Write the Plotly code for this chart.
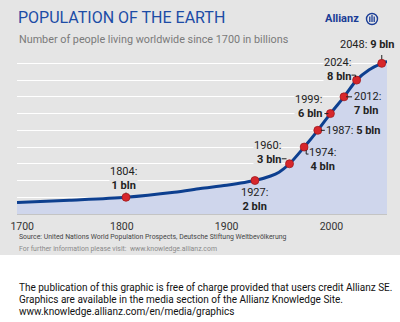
import plotly.graph_objects as go

# World population curve (billions)
years = [1700, 1750, 1804, 1850, 1875, 1900, 1927, 1942, 1950, 1960,
         1974, 1987, 1999, 2012, 2024, 2036, 2048, 2053]
population = [0.68, 0.82, 1.0, 1.3, 1.52, 1.72, 2.0, 2.27, 2.5, 3.0,
              4.0, 5.0, 6.0, 7.0, 8.0, 8.62, 9.0, 9.12]

# Milestones: year at which each billion was reached
milestone_years = [1804, 1927, 1960, 1974, 1987, 1999, 2012, 2024, 2048]
milestone_pop = [1, 2, 3, 4, 5, 6, 7, 8, 9]

tick_years = [1700, 1800, 1900, 2000]
tick_labels = ["\u00a0\u00a0\u00a0\u00a01700", "1800", "1900", "2000"]

BLUE = "#0d3f8f"
RED = "#d7262b"
GREY_BG = "#e5e5e5"
FILL = "#cfd6ec"
TXT = "#333333"
FONT = "Roboto, Liberation Sans, sans-serif"

# page geometry (pixels) -> paper coordinates
L, R, T, B = 17, 13, 55, 108
W, H = 400, 322
PW, PH = W - L - R, H - T - B


def px(x):
    return (x - L) / PW


def py(y):
    return (H - B - y) / PH


fig = go.Figure()

fig.add_trace(go.Scatter(
    x=years, y=population, mode="lines",
    line=dict(color=BLUE, width=3, shape="spline", smoothing=0.8),
    fill="tozeroy", fillcolor=FILL, hoverinfo="skip",
))

fig.add_trace(go.Scatter(
    x=milestone_years, y=milestone_pop, mode="markers",
    marker=dict(color=RED, size=8, line=dict(color="#a01a1e", width=0.8)),
    hoverinfo="skip",
))

# label placement per milestone: (xshift, yshift, xanchor, align, two_lines, on_fill)
placement = {
    1804: (-3, 19, "center", "center", True, False),
    1927: (0, -19, "center", "center", True, True),
    1960: (-22, 11, "center", "right", True, False),
    1974: (18, -12, "center", "center", True, True),
    1987: (7, 0, "left", "left", False, True),
    1999: (-7, 7, "right", "right", True, False),
    2012: (9, -7, "left", "left", True, True),
    2024: (-5, 11, "right", "right", True, False),
    2048: (-15, 19, "center", "center", False, False),
}

# small leader strokes, pixel offsets from each milestone point
leaders = {
    1804: [(0, 4, 0, 8)],
    1960: [(-8, 5, -3, 5)],
    1974: [(2, -3, 2, -7), (2, -7, 5, -7)],
    1987: [(3, 0, 7, 0)],
    1999: [(-6, 0, -2, 0)],
    2012: [(2, 0, 8, 0)],
    2024: [(-6, 5, -1, 5), (-1, 5, -1, 3)],
    2048: [(0, 4, 0, 11)],
}

for yr, pop in zip(milestone_years, milestone_pop):
    xs, ys, xa, al, two, on_fill = placement[yr]
    sep = "<br>" if two else " "
    fig.add_annotation(
        x=yr, y=pop, xref="x", yref="y",
        text=f"{yr}:{sep}<b>{pop} bln</b>",
        showarrow=False, xshift=xs, yshift=ys,
        xanchor=xa, yanchor="middle", align=al,
        font=dict(family=FONT, size=11, color="#222222"),
        bgcolor=FILL if on_fill else GREY_BG, borderpad=0,
    )
    for (x0, y0, x1, y1) in leaders.get(yr, []):
        fig.add_shape(
            type="line", xref="x", yref="y",
            xsizemode="pixel", ysizemode="pixel",
            xanchor=yr, yanchor=pop,
            x0=x0, x1=x1, y0=y0, y1=y1,
            line=dict(color="#222222", width=1),
        )

# grey header panel behind the chart
fig.add_shape(type="rect", xref="paper", yref="paper", layer="below",
              x0=px(0), x1=px(W), y0=py(255), y1=py(0),
              fillcolor=GREY_BG, line=dict(width=0))

# Allianz logo mark
cx, cy, r = 372, 19, 5.5
fig.add_shape(type="circle", xref="paper", yref="paper",
              x0=px(cx - r), x1=px(cx + r), y0=py(cy + r), y1=py(cy - r),
              line=dict(color="#1a3d96", width=1.4))
for dx, top, bot in [(-2.2, 16.5, 22), (0, 15, 22), (2.2, 16.5, 22)]:
    fig.add_shape(type="line", xref="paper", yref="paper",
                  x0=px(cx + dx), x1=px(cx + dx), y0=py(bot), y1=py(top),
                  line=dict(color="#1a3d96", width=1.3))

texts = [
    dict(x=16, y=17, text="POPULATION OF THE EARTH",
         font=dict(family=FONT, size=16, color="#1c4ca6")),
    dict(x=17, y=39, text="Number of people living worldwide since 1700 in billions",
         font=dict(family=FONT, size=10.8, color="#7a7a7a")),
    dict(x=323, y=18, text="<b>Allianz</b>",
         font=dict(family=FONT, size=11, color="#1a3d96")),
    dict(x=17, y=237, text="Source: United Nations World Population Prospects, Deutsche Stiftung Weltbevölkerung",
         font=dict(family=FONT, size=6.9, color="#444444")),
    dict(x=17, y=249, text="For further information please visit:  www.knowledge.allianz.com",
         font=dict(family=FONT, size=6.9, color="#8a8a8a")),
    dict(x=17, y=287, text="The publication of this graphic is free of charge provided that users credit Allianz SE.",
         font=dict(family=FONT, size=10, color="#111111")),
    dict(x=17, y=299, text="Graphics are available in the media section of the Allianz Knowledge Site.",
         font=dict(family=FONT, size=10, color="#111111")),
    dict(x=17, y=311, text="www.knowledge.allianz.com/en/media/graphics",
         font=dict(family=FONT, size=10, color="#111111")),
]
for t in texts:
    fig.add_annotation(x=px(t["x"]), y=py(t["y"]), xref="paper", yref="paper",
                       text=t["text"], showarrow=False, xanchor="left", yanchor="middle",
                       font=t["font"])

fig.update_layout(
    width=W, height=H,
    margin=dict(l=L, r=R, t=T, b=B, pad=0, autoexpand=False),
    paper_bgcolor="white", plot_bgcolor=GREY_BG,
    showlegend=False,
    xaxis=dict(range=[1700, 2053], tickvals=tick_years, ticktext=tick_labels,
               showgrid=False, zeroline=False, showline=True, linecolor="#c4c4c4",
               linewidth=1, ticks="", ticklabelstandoff=2, ticklabeloverflow="allow",
               automargin=False,
               tickfont=dict(family=FONT, size=10.5, color=TXT), fixedrange=True),
    yaxis=dict(range=[0, 9.5], tickvals=[1, 2, 3, 4, 5, 6, 7, 8, 9],
               showticklabels=False, showgrid=True, gridcolor="white", gridwidth=1,
               zeroline=False, showline=False, ticks="", fixedrange=True),
)

fig.write_html("out.html")
